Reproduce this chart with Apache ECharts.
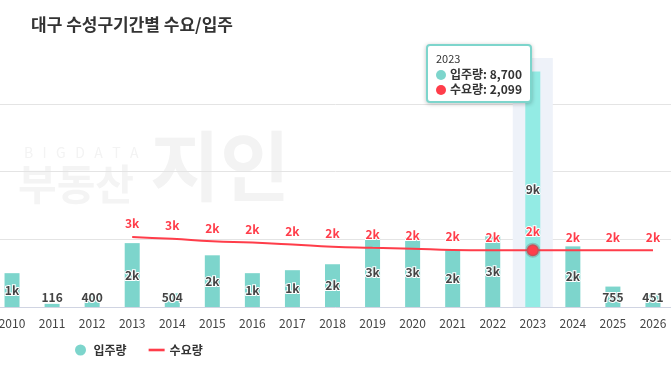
<!DOCTYPE html>
<html>
<head>
<meta charset="utf-8">
<script src="https://cdn.jsdelivr.net/npm/echarts@6/dist/echarts.min.js"></script>
<style>
html,body{margin:0;padding:0;background:#fff;}
#chart{width:671px;height:379px;}
</style>
</head>
<body>
<div id="chart"></div>
<script>
const years = ['2010','2011','2012','2013','2014','2015','2016','2017','2018','2019','2020','2021','2022','2023','2024','2025','2026'];
const supply = [1250, 116, 400, 2360, 504, 1910, 1250, 1360, 1580, 2580, 2560, 2100, 2610, 8700, 2240, 755, 451];
const demand = [null, null, null, 2590, 2520, 2430, 2380, 2310, 2230, 2190, 2155, 2110, 2100, 2099, 2100, 2100, 2100];
const seriesNames = ['입주량', '수요량'];
const titleText = '대구 수성구기간별 수요/입주';
const highlightIndex = 13;

const FONT = "'Noto Sans CJK KR', 'Noto Sans', sans-serif";
const BAR = '#7dd5cc';
const BAR_HI = '#93ebe4';
const RED = '#ff3d4a';

function fmtK(v) {
  return v >= 1000 ? Math.round(v / 1000) + 'k' : String(v);
}

const chart = echarts.init(document.getElementById('chart'), null, {renderer: 'canvas'});

const barData = supply.map((v, i) => ({
  value: v,
  itemStyle: i === highlightIndex ? {color: BAR_HI} : undefined,
  label: v < 1000 ? {position: 'insideBottom', distance: 4} : undefined
}));
const lineData = demand.map((v, i) => (i === highlightIndex ? {
  value: v, symbolSize: 11,
  itemStyle: {color: RED, borderColor: 'rgba(110,110,110,0.35)', borderWidth: 3}
} : {
  value: v, symbolSize: 4,
  itemStyle: {color: 'rgba(0,0,0,0)', borderWidth: 0}
}));

chart.setOption({
  animation: false,
  textStyle: {fontFamily: FONT},
  title: {
    text: titleText,
    left: 26, top: 11,
    textStyle: {fontSize: 17, fontWeight: 'bold', color: '#333', fontFamily: FONT}
  },
  graphic: [
    {type: 'text', left: 24, top: 146, z: 0, silent: true,
     style: {text: 'B   I   G   D   A   T   A', fill: '#f3f3f3', font: '14px ' + FONT}},
    {type: 'text', left: 18, top: 163, z: 0, silent: true,
     style: {text: '부동산', fill: '#f4f4f4', font: 'bold 42px ' + FONT}},
    {type: 'text', left: 150, top: 128, z: 0, silent: true,
     style: {text: '지인', fill: '#f3f3f3', font: 'bold 76px ' + FONT}}
  ],
  grid: {left: -8, right: -2, top: 58, bottom: 72, containLabel: false, outerBoundsMode: 'none'},
  legend: {
    left: 70, bottom: 18,
    itemGap: 22, itemWidth: 16, itemHeight: 11,
    textStyle: {fontSize: 12, fontWeight: 'bold', color: '#333', fontFamily: FONT},
    data: [
      {name: seriesNames[0], icon: 'circle'},
      {name: seriesNames[1], icon: 'path://M0,0 H16 V2.6 H0 Z', itemStyle: {color: RED}}
    ]
  },
  tooltip: {
    trigger: 'axis',
    alwaysShowContent: true,
    transitionDuration: 0,
    position: [426, 44],
    backgroundColor: '#fff',
    borderColor: '#7dd5cc',
    borderWidth: 2,
    padding: [5, 8],
    extraCssText: 'border-radius:4px;box-shadow:0 1px 4px rgba(0,0,0,0.25);',
    axisPointer: {type: 'shadow', z: 1, shadowStyle: {color: '#eef2f9', opacity: 1}},
    formatter: function (params) {
      let html = '<div style="font-family:' + FONT.replace(/"/g, '') + ';color:#333;line-height:15px;">';
      html += '<div style="font-size:11px;">' + params[0].axisValue + '</div>';
      params.forEach(p => {
        const c = p.seriesIndex === 0 ? BAR : RED;
        html += '<div style="font-size:12px;font-weight:bold;white-space:nowrap;">' +
          '<span style="display:inline-block;width:10px;height:10px;border-radius:5px;background:' + c + ';margin-right:4px;vertical-align:-1px;"></span>' +
          p.seriesName + ': ' + Number(p.value).toLocaleString('en-US') + '</div>';
      });
      html += '</div>';
      return html;
    }
  },
  xAxis: {
    type: 'category',
    data: years,
    boundaryGap: true,
    axisTick: {show: false},
    axisLine: {lineStyle: {color: '#d0d4e2', width: 1}},
    axisLabel: {color: '#444', fontSize: 12, margin: 10, fontFamily: FONT},
    axisPointer: {z: 1},
    splitLine: {show: false}
  },
  yAxis: {
    type: 'value',
    min: 0, max: 9200, interval: 2500,
    axisLabel: {show: false},
    axisLine: {show: false},
    axisTick: {show: false},
    splitLine: {show: true, showMaxLine: false, lineStyle: {color: '#e4e4e4'}}
  },
  series: [
    {
      name: seriesNames[0],
      type: 'bar',
      barWidth: 15,
      itemStyle: {color: BAR},
      emphasis: {disabled: true},
      label: {
        show: true, position: 'inside',
        color: '#444', fontSize: 12, fontWeight: 'bold', fontFamily: FONT,
        textBorderColor: '#fff', textBorderWidth: 2,
        formatter: p => fmtK(p.value)
      },
      data: barData,
      z: 2
    },
    {
      name: seriesNames[1],
      type: 'line',
      smooth: true,
      symbol: 'circle',
      showSymbol: true,
      connectNulls: false,
      color: RED,
      lineStyle: {color: RED, width: 2},
      emphasis: {disabled: true},
      label: {
        show: true, position: 'top',
        color: RED, fontSize: 12, fontWeight: 'bold', fontFamily: FONT,
        textBorderColor: '#fff', textBorderWidth: 2,
        formatter: p => p.value == null ? '' : fmtK(p.value)
      },
      data: lineData,
      z: 3
    }
  ]
});

chart.dispatchAction({type: 'showTip', seriesIndex: 0, dataIndex: highlightIndex});
</script>
</body>
</html>
